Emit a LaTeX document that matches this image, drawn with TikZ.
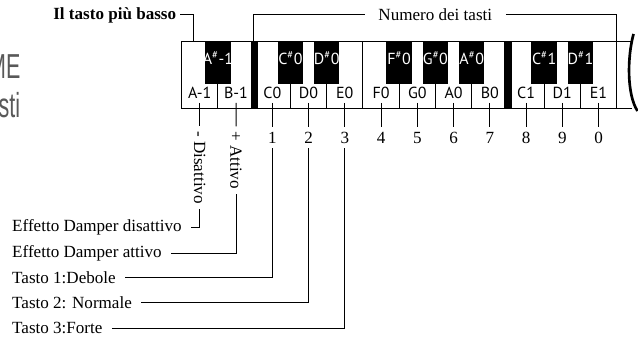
\documentclass[tikz,border=0pt]{standalone}
\usepackage{fontspec}
\setmainfont{Liberation Serif}
\setsansfont{PT Sans}
\newfontfamily\bigfont{Liberation Sans}
\newcommand\shp{\textsuperscript{\#}}

\begin{document}
\begin{tikzpicture}[x=0.75pt, y=-0.75pt, line width=0.75pt,
  txt/.style={font=\fontsize{12.8}{15}\selectfont},
  lbl/.style={txt, inner sep=0pt, anchor=west},
  rotlbl/.style={txt, rotate=-90, anchor=west},
  keylbl/.style={font=\sffamily\fontsize{12}{14}\selectfont, anchor=base, inner sep=0pt},
  blklbl/.style={keylbl, text=white},
  bigtxt/.style={font=\bigfont\fontsize{26}{30}\selectfont, text=black!65, anchor=base east, xscale=0.62, transform shape, inner sep=0pt}]
\useasboundingbox (0,0) rectangle (638,338);

\node[bigtxt] (me) at (20.7,78.3) {ME};
\node[bigtxt] (sti) at (20.5,118) {sti};

\foreach \n [count=\k from 0] in {A-1,B-1,C0,D0,E0,F0,G0,A0,B0,C1,D1,E1} {
  \draw (181.7+36.25*\k,41.7) rectangle ++(36.25,66.6);
  \node[keylbl] (w\k) at (199.8+36.25*\k,98.3) {\n};
  \coordinate (t\k) at (199.8+36.25*\k,103);
}
\foreach \b/\n in {1/A\shp-1, 3/C\shp0, 4/D\shp0, 6/F\shp0, 7/G\shp0, 8/A\shp0, 10/C\shp1, 11/D\shp1} {
  \fill (181.7+36.25*\b-12.75,41.7) rectangle ++(25.5,42.6);
  \node[blklbl] (b\b) at (181.7+36.25*\b,64.3) {\n};
}
\fill (181.7+36.25*2-3.65,41.7) rectangle ++(7.3,66.6);
\fill (181.7+36.25*9-3.65,41.7) rectangle ++(7.3,66.6);
\draw (616.7,41.7) -- (633.3,41.7);
\draw (616.7,108.3) -- (631.7,108.3);
\draw[line width=2pt] (633.5,34) .. controls (627,58) and (627,95) .. (637.5,111);

\node[txt, font=\fontsize{12.8}{15}\selectfont\bfseries, anchor=east, inner xsep=2.5pt] (lowest) at (180,15) {Il tasto più basso};
\coordinate (lowtop) at (193.3,41.7);
\draw (lowest.east) -| (lowtop);

\node[txt, inner xsep=9.9pt] (numk) at (435.3,15) {Numero dei tasti};
\coordinate (numl) at (253.7,41.7);
\coordinate (numr) at (616.7,41.7);
\draw (numk.west) -| (numl);
\draw (numk.east) -| (numr);

\foreach \d [count=\k from 2] in {1,2,3,4,5,6,7,8,9,0} {
  \node[txt, anchor=base] (n\k) at (199.8+36.25*\k,143.3) {\d};
  \draw (t\k) -- (n\k.north);
}

\node[rotlbl] (rdis) at (199.8,126.4) {- Disattivo};
\node[rotlbl] (ratt) at (236,126.4) {+ Attivo};
\draw (t0) -- (rdis.west);
\draw (t1) -- (ratt.west);

\node[lbl] (ldis) at (11.7,227.7) {Effetto Damper disattivo};
\node[lbl] (latt) at (11.7,253.3) {Effetto Damper attivo};
\node[lbl] (lone) at (11.7,277.7) {Tasto 1:Debole};
\node[lbl] (ltwo) at (11.7,302.7) {Tasto 2: Normale};
\node[lbl] (lthree) at (11.7,328.3) {Tasto 3:Forte};
\draw (ldis.east) ++(9,0) -| (rdis.east);
\draw (latt.east) ++(9,0) -| (ratt.east);
\draw (lone.east) ++(9,0) -| (n2.south);
\draw (ltwo.east) ++(9,0) -| (n3.south);
\draw (lthree.east) ++(9,0) -| (n4.south);
\end{tikzpicture}
\end{document}
